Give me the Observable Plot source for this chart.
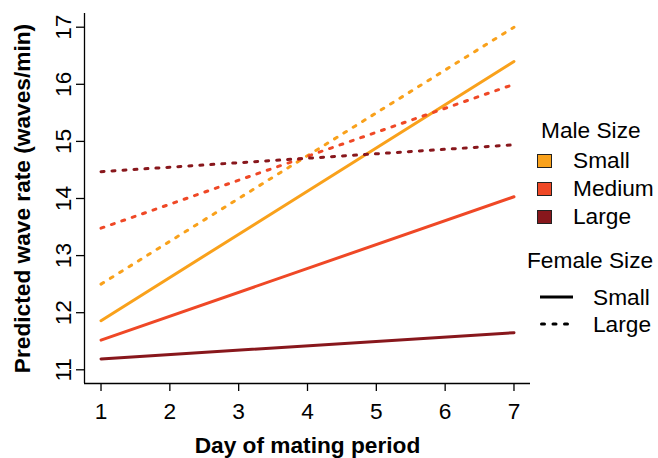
<!DOCTYPE html>
<html>
<head>
<meta charset="utf-8">
<script src="https://cdn.jsdelivr.net/npm/d3@7"></script>
<script src="https://cdn.jsdelivr.net/npm/@observablehq/plot@0.6"></script>
<style>
  html, body { margin: 0; padding: 0; background: #fff; }
  #wrap { position: relative; width: 658px; height: 458px; font-family: "Liberation Sans", Arial, sans-serif; }
  #legend { position: absolute; left: 0; top: 0; width: 658px; height: 458px; pointer-events: none; }
  .lg { position: absolute; font-size: 22.7px; color: #000; white-space: nowrap; line-height: 1; }
</style>
</head>
<body>
<div id="wrap"></div>
<script>
// ---- data ----
const days = [1, 7];
const xTicks = [1, 2, 3, 4, 5, 6, 7];
const yTicks = [11, 12, 13, 14, 15, 16, 17];
const maleSizes = ["Small", "Medium", "Large"];
const femaleSizes = ["Small", "Large"];
const maleColors = ["#F9A11B", "#EF4826", "#88171C"];
// predicted wave rate at day 1 and day 7, female small (solid)
const femSmall_maleSmall = [11.86, 16.40];
const femSmall_maleMedium = [11.52, 14.03];
const femSmall_maleLarge = [11.19, 11.65];
// female large (dashed)
const femLarge_maleSmall = [12.50, 17.00];
const femLarge_maleMedium = [13.48, 16.00];
const femLarge_maleLarge = [14.47, 14.94];
const xDomain = [0.76, 7.24];
const yDomain = [10.76, 17.24];

const series = [
  ["Small", "Small", femSmall_maleSmall],
  ["Small", "Medium", femSmall_maleMedium],
  ["Small", "Large", femSmall_maleLarge],
  ["Large", "Small", femLarge_maleSmall],
  ["Large", "Medium", femLarge_maleMedium],
  ["Large", "Large", femLarge_maleLarge]
];
const rows = [];
for (const [fem, male, vals] of series) {
  vals.forEach((v, i) => rows.push({day: days[i], rate: v, female: fem, male: male, key: fem + "-" + male}));
}

const font = "Liberation Sans, Arial, sans-serif";
const fs = 22.7;

const chart = Plot.plot({
  width: 658,
  height: 458,
  marginLeft: 84,
  marginRight: 128,
  marginTop: 13,
  marginBottom: 75,
  style: {fontFamily: font, fontSize: fs + "px", color: "#000", background: "#fff"},
  x: {domain: xDomain},
  y: {domain: yDomain},
  color: {domain: maleSizes, range: maleColors},
  marks: [
    Plot.ruleX([xDomain[0]], {stroke: "#000", strokeWidth: 1.3}),
    Plot.ruleY([yDomain[0]], {stroke: "#000", strokeWidth: 1.3}),
    Plot.axisX({ticks: xTicks, tickSize: 8, tickPadding: 11, tickFormat: d => String(d), fontSize: fs, label: null, stroke: "#000", strokeWidth: 1.3}),
    Plot.axisY({ticks: yTicks, tickSize: 8, tickFormat: () => "", label: null, stroke: "#000", strokeWidth: 1.3}),
    Plot.text(yTicks, {y: d => d, text: d => String(d), rotate: -90, frameAnchor: "left", dx: -21, fontSize: fs, lineAnchor: "middle", textAnchor: "middle"}),
    Plot.text(["Day of mating period"], {frameAnchor: "bottom", dy: 62, lineAnchor: "middle", textAnchor: "middle", fontWeight: "bold", fontSize: fs}),
    Plot.text(["Predicted wave rate (waves/min)"], {frameAnchor: "left", dx: -62, rotate: -90, lineAnchor: "middle", textAnchor: "middle", fontWeight: "bold", fontSize: fs}),
    Plot.line(rows.filter(d => d.female === "Small"), {x: "day", y: "rate", z: "key", stroke: "male", strokeWidth: 3}),
    Plot.line(rows.filter(d => d.female === "Large"), {x: "day", y: "rate", z: "key", stroke: "male", strokeWidth: 3, strokeDasharray: "3,8", strokeLinecap: "round"})
  ]
});

const wrap = document.getElementById("wrap");
wrap.appendChild(chart);

// ---- legend ----
const legend = d3.select(wrap).append("div").attr("id", "legend");
function lab(text, x, yCenter) {
  legend.append("div").attr("class", "lg").style("left", x + "px").style("top", (yCenter - 11.1) + "px").text(text);
}
lab("Male Size", 541, 130);
const maleCenters = [161, 189, 217];
maleSizes.forEach((m, i) => {
  const c = maleCenters[i];
  legend.append("div").style("position", "absolute").style("left", "537px").style("top", (c - 7.5) + "px")
    .style("width", "13px").style("height", "12px").style("background", maleColors[i])
    .style("border", "1.5px solid #222");
  lab(m, 573, c - 1);
});
lab("Female Size", 527, 260);
const femCenters = [297, 324];
femaleSizes.forEach((f, i) => {
  const c = femCenters[i];
  const svg = legend.append("svg").style("position", "absolute").style("left", "537px").style("top", (c - 5) + "px")
    .attr("width", 40).attr("height", 10);
  svg.append("line").attr("x1", i === 0 ? 3 : 4.5).attr("x2", 36).attr("y1", 5).attr("y2", 5)
    .attr("stroke", "#000").attr("stroke-width", 3)
    .attr("stroke-linecap", i === 0 ? "butt" : "round")
    .attr("stroke-dasharray", i === 0 ? null : "3,8.5");
  lab(f, 593, c);
});
</script>
</body>
</html>
